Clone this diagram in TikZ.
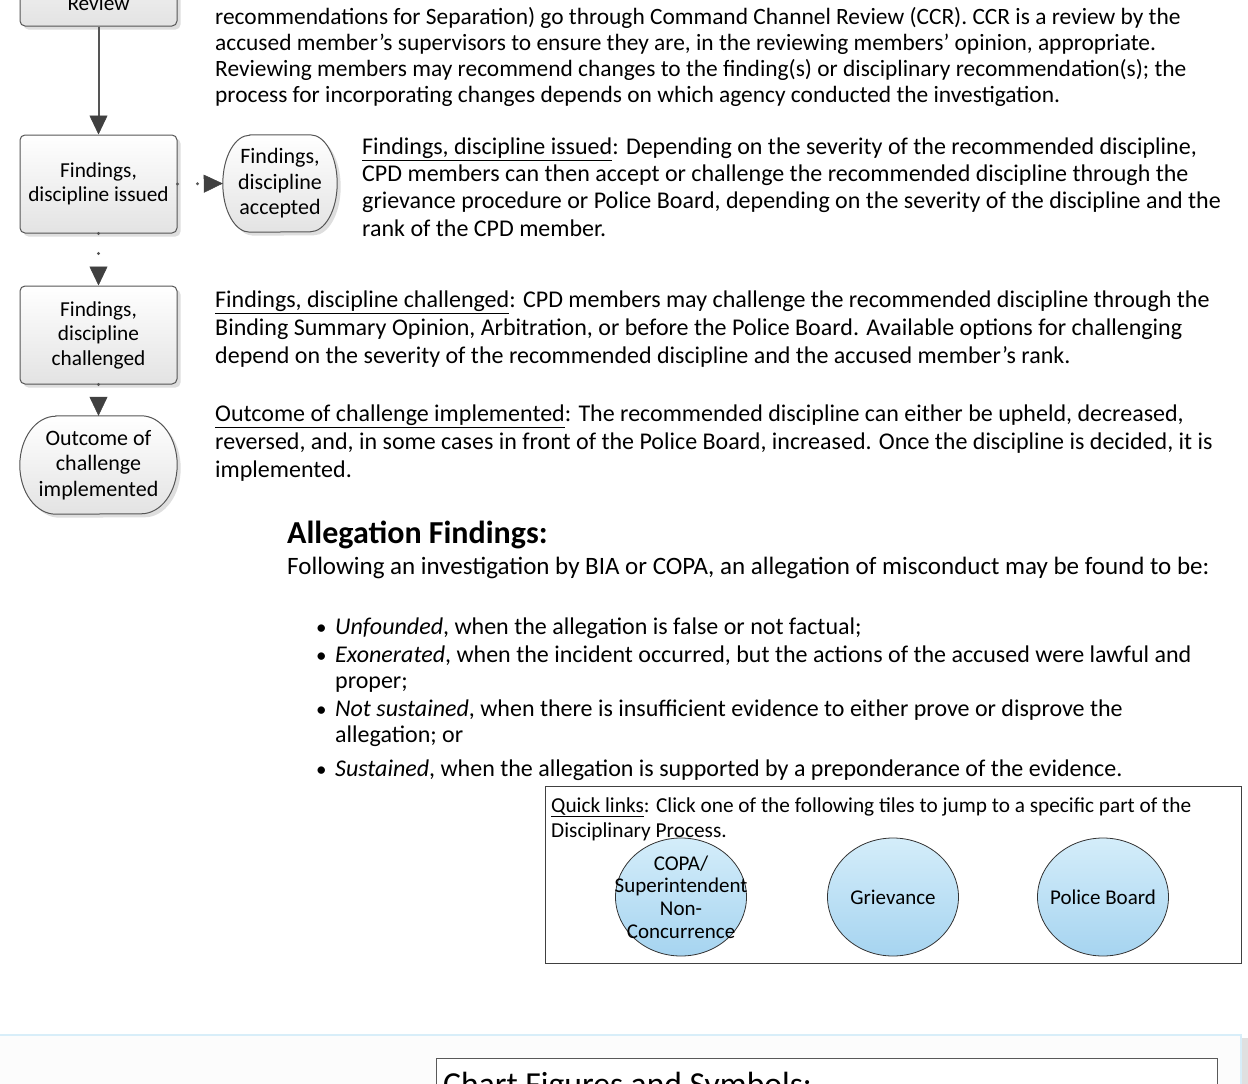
\documentclass[tikz,border=0pt]{standalone}
\usepackage{fontspec}
\setmainfont{Carlito}
\usetikzlibrary{arrows.meta,shapes.geometric,shadows}
\definecolor{boxline}{HTML}{555555}
\definecolor{boxbot}{HTML}{E3E3E3}
\definecolor{arrowc}{HTML}{404040}
\definecolor{cirtop}{HTML}{D4EDFA}
\definecolor{cirbot}{HTML}{A6D4F0}
\definecolor{sepblue}{HTML}{D8EEF9}
\begin{document}
\begin{tikzpicture}[x=1pt,y=-1pt,
  flowshade/.style={draw=boxline, line width=1pt, top color=white, bottom color=boxbot,
    drop shadow={shadow xshift=3.5pt, shadow yshift=-3.5pt, opacity=1, fill=black!13}},
  flowbox/.style={rectangle, rounded corners=5pt, flowshade, minimum width=157pt, minimum height=98pt,
    inner sep=2pt, align=center, font=\fontsize{21.3}{24.5}\selectfont},
  termnode/.style={rectangle, minimum width=157pt, minimum height=98pt, inner sep=0pt,
    align=center, font=\fontsize{22}{25.5}\selectfont},
  mainarrow/.style={draw=boxline, line width=2pt,
    -{Triangle[length=19pt,width=18pt,line width=0.5pt,fill=arrowc,color=arrowc]}},
  dotarrow/.style={draw=boxline, line width=3.2pt, line cap=round, dash pattern=on 0pt off 20pt,
    -{Triangle[length=19pt,width=18pt,line width=0.5pt,fill=arrowc,color=arrowc]}},
  para/.style={anchor=north west, align=left, inner sep=0pt, font=\fontsize{24}{28}\selectfont},
  smallpara/.style={anchor=north west, align=left, inner sep=0pt, font=\fontsize{21.3}{25}\selectfont},
  tile/.style={ellipse, draw=black!80, line width=0.8pt, top color=cirtop, bottom color=cirbot,
    minimum width=131pt, minimum height=118pt, inner sep=0pt},
  tiletext/.style={inner sep=0pt, align=center, font=\fontsize{21}{22.7}\selectfont}
]
\useasboundingbox (0,0) rectangle (1248,1084);
\fill[white] (0,0) rectangle (1248,1084);

% ---- flowchart ----
\node[flowbox] (rv) at (98.5,-23) {};
\node[inner sep=0pt, font=\fontsize{21.3}{24.5}\selectfont] (rvt) at (98.5,3) {Review};
\node[flowbox] (fi) at (98.5,184) {Findings,\\discipline issued};
\node[termnode, minimum width=114pt, minimum height=97pt] (fa) at (280,183.5) {};
\node[flowbox] (fc) at (98.5,335) {Findings,\\discipline\\challenged};
\node[termnode] (oc) at (98.5,465) {};

% terminator outlines (elliptic ends)
\path[flowshade] ([xshift=27pt]fa.north west) -- ([xshift=-27pt]fa.north east)
  arc[start angle=90, end angle=-90, x radius=27pt, y radius=48.5pt]
  -- ([xshift=27pt]fa.south west)
  arc[start angle=270, end angle=90, x radius=27pt, y radius=48.5pt] -- cycle;
\node[termnode, minimum width=114pt, minimum height=97pt] (fat) at (fa.center) {Findings,\\discipline\\accepted};
\path[flowshade] ([xshift=36pt]oc.north west) -- ([xshift=-36pt]oc.north east)
  arc[start angle=90, end angle=-90, x radius=36pt, y radius=49pt]
  -- ([xshift=36pt]oc.south west)
  arc[start angle=270, end angle=90, x radius=36pt, y radius=49pt] -- cycle;
\node[termnode] (oct) at (oc.center) {Outcome of\\challenge\\implemented};

\draw[mainarrow] (rv.south) -- (fi.north);
\draw[dotarrow] (fi.east) -- (fa.west);
\draw[dotarrow] (fi.south) -- (fc.north);
\draw[dotarrow] (fc.south) -- (oc.north);

% ---- text ----
\node[para, font=\fontsize{23.4}{26.2}\selectfont] (p1) at (215,4) {\rule{0pt}{20pt}recommendations for Separation) go through Command Channel Review (CCR). CCR is a review by the\\
accused member’s supervisors to ensure they are, in the reviewing members’ opinion, appropriate.\\
Reviewing members may recommend changes to the finding(s) or disciplinary recommendation(s); the\\
process for incorporating changes depends on which agency conducted the investigation.};

\node[para, font=\fontsize{24}{27.3}\selectfont] (p2) at (362,134) {\rule{0pt}{20pt}\underline{Findings, discipline issued}: Depending on the severity of the recommended discipline,\\
CPD members can then accept or challenge the recommended discipline through the\\
grievance procedure or Police Board, depending on the severity of the discipline and the\\
rank of the CPD member.};

\node[para] (p3) at (215,287) {\rule{0pt}{20pt}\underline{Findings, discipline challenged}: CPD members may challenge the recommended discipline through the\\
Binding Summary Opinion, Arbitration, or before the Police Board. Available options for challenging\\
depend on the severity of the recommended discipline and the accused member’s rank.};

\node[para] (p4) at (215,401) {\rule{0pt}{20pt}\underline{Outcome of challenge implemented}: The recommended discipline can either be upheld, decreased,\\
reversed, and, in some cases in front of the Police Board, increased. Once the discipline is decided, it is\\
implemented.};

\node[anchor=base west, inner sep=0pt, font=\fontsize{32}{36}\selectfont\bfseries] (ah) at (287,543) {Allegation Findings:};
\node[anchor=base west, inner sep=0pt, font=\fontsize{25}{27}\selectfont] (af) at (287,574) {Following an investigation by BIA or COPA, an allegation of misconduct may be found to be:};

\node[anchor=base west, inner sep=0pt, font=\fontsize{21}{26}\selectfont] (b1) at (316,634) {\textbullet};
\node[anchor=base west, inner sep=0pt, font=\fontsize{21}{26}\selectfont] (b2) at (316,662) {\textbullet};
\node[anchor=base west, inner sep=0pt, font=\fontsize{21}{26}\selectfont] (b3) at (316,716) {\textbullet};
\node[anchor=base west, inner sep=0pt, font=\fontsize{21}{26}\selectfont] (b4) at (316,776) {\textbullet};
\node[para, font=\fontsize{24}{26.5}\selectfont] (i1) at (335,614) {\rule{0pt}{20pt}\textit{Unfounded}, when the allegation is false or not factual;};
\node[para, font=\fontsize{24}{26.5}\selectfont] (i2) at (335,642) {\rule{0pt}{20pt}\textit{Exonerated}, when the incident occurred, but the actions of the accused were lawful and\\proper;};
\node[para, font=\fontsize{24}{26.5}\selectfont] (i3) at (335,696) {\rule{0pt}{20pt}\textit{Not sustained}, when there is insufficient evidence to either prove or disprove the\\allegation; or};
\node[para, font=\fontsize{24}{26.5}\selectfont] (i4) at (335,756) {\rule{0pt}{20pt}\textit{Sustained}, when the allegation is supported by a preponderance of the evidence.};

% ---- quick links ----
\node[draw=black!75, line width=1.2pt, rectangle, anchor=north west, minimum width=696pt, minimum height=177pt, inner sep=0pt] (ql) at (545,786) {};
\node[smallpara] (qt) at (551,795) {\rule{0pt}{17pt}\underline{Quick links}: Click one of the following tiles to jump to a specific part of the\\Disciplinary Process.};
\node[tile] (t1) at (681,897) {};
\node[tile] (t2) at (893,897) {};
\node[tile] (t3) at (1103,897) {};
\node[tiletext] (t1t) at (t1.center) {COPA/\\Superintendent\\Non-\\Concurrence};
\node[tiletext] (t2t) at (t2.center) {Grievance};
\node[tiletext] (t3t) at (t3.center) {Police Board};

% ---- lower page ----
\fill[black!1] (0,1035) rectangle (1241,1084);
\fill[black!12] (1241,1038) rectangle (1248,1084);
\draw[sepblue, line width=1.5pt] (0,1035) -- (1241,1035) -- (1241,1084);
\node[draw=black!65, line width=1.2pt, fill=white, rectangle, anchor=north west, minimum width=781pt, minimum height=80pt, inner sep=0pt] (cf) at (436,1058) {};
\node[anchor=base west, inner sep=0pt, font=\fontsize{33.6}{38}\selectfont] (cft) at (443,1095) {Chart Figures and Symbols:};
\end{tikzpicture}
\end{document}
